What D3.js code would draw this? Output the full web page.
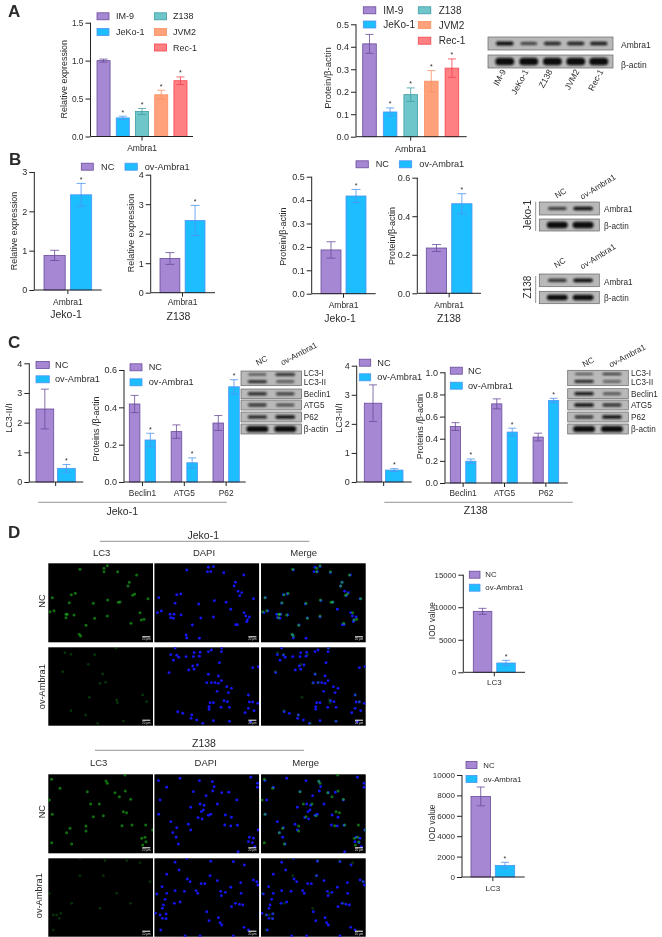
<!DOCTYPE html>
<html><head><meta charset="utf-8">
<script src="https://cdn.jsdelivr.net/npm/d3@7/dist/d3.min.js"></script>
<style>html,body{margin:0;padding:0;background:#fff}svg{display:block;filter:blur(0.3px)}text{font-family:"Liberation Sans",Arial,sans-serif;fill:#2b2b2b}</style>
</head><body><svg id="fig" width="662" height="937" viewBox="0 0 662 937"></svg>
<script>
// ---------- DATA ----------
const lines5 = ['IM-9','JeKo-1','Z138','JVM2','Rec-1'];
const groups2 = ['NC','ov-Ambra1'];
const ambra = ['Ambra1'];
const autophagy = ['Beclin1','ATG5','P62'];
const lc3 = ['LC3'];

const a1Mean=[[1.0,0.245,0.33,0.55,0.735]], a1Err=[[0.02,0.022,0.04,0.06,0.05]];
const a2Mean=[[0.413,0.11,0.187,0.247,0.305]], a2Err=[[0.042,0.018,0.03,0.047,0.041]];
const b1Mean=[[0.88,2.42]], b1Err=[[0.13,0.29]];
const b2Mean=[[1.16,2.45]], b2Err=[[0.2,0.51]];
const b3Mean=[[0.187,0.4175]], b3Err=[[0.035,0.028]];
const b4Mean=[[0.235,0.465]], b4Err=[[0.018,0.052]];
const c1Mean=[[2.46,0.46]], c1Err=[[0.67,0.13]];
const c2Mean=[[0.418,0.225],[0.27,0.103],[0.316,0.51]], c2Err=[[0.046,0.036],[0.036,0.026],[0.04,0.038]];
const c3Mean=[[2.71,0.41]], c3Err=[[0.63,0.05]];
const c4Mean=[[0.51,0.197],[0.715,0.46],[0.415,0.745]], c4Err=[[0.035,0.02],[0.045,0.035],[0.035,0.02]];
const d1Mean=[[9370,1430]], d1Err=[[460,410]];
const d2Mean=[[7900,1140]], d2Err=[[920,300]];

const ticksA1=[0,0.5,1,1.5], ticksA2=[0,0.1,0.2,0.3,0.4,0.5], ticks3=[0,1,2,3], ticks4=[0,1,2,3,4];
const ticksB3=[0,0.1,0.2,0.3,0.4,0.5], ticksB4=[0,0.2,0.4,0.6], ticksC2=[0,0.2,0.4,0.6];
const ticksC4=[0,0.2,0.4,0.6,0.8,1], ticksD1=[0,5000,10000,15000], ticksD2=[0,2000,4000,6000,8000,10000];

// blot band intensities per lane
const blotA=[[0.85,0.45,0.65,0.7,0.75],[1,1,1,1,1]];
const blotBJ=[[0.5,0.85],[1,1]], blotBZ=[[0.55,0.85],[0.95,0.95]];
const blotCJ=[[0.35,0.8],[0.7,0.4],[0.7,0.55],[0.6,0.45],[0.75,0.95],[1,1]];
const blotCZ=[[0.35,0.65],[0.75,0.3],[0.8,0.35],[0.95,0.65],[0.6,0.95],[1,1]];

// micrograph cell positions, as read on the picture
const jNcLc3=[[240,148],[322,137],[312,145],[312,155],[353,155],[410,165],[388,187],[384,198],[398,226],[404,222],[226,220],[214,224],[157,233],[208,248],[280,250],[323,240],[355,247],[360,246],[444,236],[150,275],[162,272],[198,283],[202,283],[198,293],[222,285],[322,288],[284,295],[420,278],[424,300],[432,298],[393,310],[258,316],[238,343],[242,348]];
const jNcDapi=[[560,150],[625,142],[640,140],[622,155],[632,155],[671,158],[731,165],[706,187],[702,198],[714,214],[725,218],[719,227],[760,236],[476,233],[530,224],[542,222],[525,250],[596,252],[643,242],[678,247],[692,268],[472,278],[484,273],[510,283],[522,283],[512,293],[520,295],[543,285],[602,294],[640,291],[577,315],[707,314],[712,314],[732,278],[737,288],[748,291],[742,300],[740,305],[558,345],[560,354],[598,355]];
const jOvLc3=[[195,398],[213,403],[284,404],[348,384],[265,433],[188,455],[308,462],[300,490],[317,487],[350,540],[352,548],[428,525],[440,545],[268,532],[213,572],[257,585],[293,610],[370,603]];
const jOvDapi=[[525,384],[512,404],[530,406],[520,421],[536,412],[558,410],[582,398],[600,397],[580,410],[598,409],[625,395],[634,390],[665,384],[664,395],[578,438],[592,435],[582,448],[566,450],[507,458],[658,428],[625,463],[655,468],[620,488],[634,488],[645,488],[655,490],[664,482],[651,514],[680,500],[685,518],[694,505],[745,525],[758,443],[775,440],[630,548],[640,548],[627,560],[627,568],[663,562],[672,542],[688,562],[682,545],[748,546],[758,546],[773,550],[745,565],[762,572],[735,578],[533,575],[548,580],[575,585],[573,595],[590,600],[608,610],[640,602],[688,604],[752,605]];
const zNcLc3=[[180,175],[155,148],[318,153],[322,160],[345,188],[376,183],[358,200],[392,208],[272,222],[298,222],[148,210],[157,253],[370,245],[380,248],[310,257],[280,260],[210,295],[258,288],[258,303],[366,287],[396,285],[437,285],[155,338],[215,342],[425,325],[435,322],[438,335],[428,345],[458,300],[200,308],[262,185],[375,135]];
const zNcDapi=[[475,152],[500,172],[540,145],[598,152],[637,155],[642,170],[638,183],[580,185],[618,197],[665,188],[686,187],[752,142],[772,160],[772,172],[480,210],[710,210],[600,222],[612,226],[652,222],[572,232],[610,240],[604,245],[632,253],[625,256],[476,253],[594,263],[606,267],[512,275],[676,255],[694,262],[565,283],[572,300],[674,285],[692,288],[712,286],[530,293],[774,300],[518,308],[528,322],[535,342],[748,322],[760,325],[745,335],[757,338],[764,350],[714,365]];
const zOvLc3=[[240,385],[315,392],[380,392],[450,455],[148,490],[350,490],[300,535],[392,520],[310,437],[240,437],[160,555],[170,555],[182,550],[178,565],[160,600],[215,520],[420,398]];
const zOvDapi=[[525,397],[560,385],[537,420],[500,433],[562,447],[570,455],[603,461],[614,461],[632,394],[700,395],[733,405],[630,437],[652,452],[692,472],[722,458],[760,450],[770,455],[773,465],[486,470],[470,492],[500,490],[525,482],[553,484],[588,482],[593,490],[662,484],[676,487],[664,497],[723,490],[495,508],[490,525],[487,535],[523,520],[540,516],[694,530],[706,520],[718,523],[728,525],[466,550],[480,555],[487,565],[498,552],[498,566],[620,545],[627,572],[655,563],[660,578],[665,585],[732,592],[745,600],[482,600],[600,618],[555,618],[700,618]];

// ---------- STYLE ----------
const palette={'IM-9':['#A587D3','#6A4B9B'],'NC':['#A587D3','#6A4B9B'],'JeKo-1':['#1DBEFF','#4C94F2'],'ov-Ambra1':['#1DBEFF','#4C94F2'],
 'Z138':['#6FC6CA','#3D9DA2'],'JVM2':['#FFA27C','#F98F62'],'Rec-1':['#FF8082','#F4434F']};
const svg=d3.select('#fig');
const defs=svg.append('defs');
defs.append('filter').attr('id','blur').attr('x','-30%').attr('y','-300%').attr('width','160%').attr('height','700%')
  .append('feGaussianBlur').attr('stdDeviation',0.9);
defs.append('filter').attr('id','soft').attr('x','-100%').attr('y','-100%').attr('width','300%').attr('height','300%')
  .append('feGaussianBlur').attr('stdDeviation',0.45);

function txt(x,y,s,size,opt={}){
  return svg.append('text').attr('x',x).attr('y',y).attr('font-size',size)
   .attr('text-anchor',opt.anchor||'start').attr('dominant-baseline','central')
   .attr('font-weight',opt.bold?'bold':null).text(s);
}
function vtxt(x,y,s,size,rot=-90,anchor='middle'){
  return svg.append('text').attr('transform',`translate(${x},${y}) rotate(${rot})`).attr('font-size',size)
   .attr('text-anchor',anchor).attr('dominant-baseline','central').text(s);
}
function legend(items){ // items: [name, swatchX, swatchW, swatchY, textX, size]
  items.forEach(([n,sx,sw,sy,tx,size])=>{
    svg.append('rect').attr('x',sx).attr('y',sy-3.5).attr('width',sw).attr('height',7)
      .attr('fill',palette[n][0]).attr('stroke',palette[n][1]).attr('stroke-width',0.8);
    txt(tx,sy,n,size);
  });
}
function barChart(o){
  const y=d3.scaleLinear().domain([0,o.max]).range([o.y0,o.yTop]);
  const n=o.cats.length;
  const outer=d3.scaleBand().domain(o.cats).range([o.bars[0],o.bars[1]]).paddingInner(n>1?o.catPad:0).paddingOuter(0);
  const inner=d3.scaleBand().domain(o.series).range([0,outer.bandwidth()]).paddingInner(o.pad).paddingOuter(0);
  const g=svg.append('g');
  o.cats.forEach((c,i)=>{
    o.series.forEach((s,j)=>{
      const v=o.mean[i][j],e=o.err[i][j],x=outer(c)+inner(s),w=inner.bandwidth(),cx=x+w/2;
      const [fill,stroke]=palette[s];
      g.append('rect').attr('x',x).attr('y',y(v)).attr('width',w).attr('height',y(0)-y(v))
        .attr('fill',fill).attr('stroke',stroke).attr('stroke-width',0.8);
      const wh=o.whisker;
      g.append('path').attr('fill','none').attr('stroke',stroke).attr('stroke-width',0.8)
       .attr('d',`M${cx},${y(v-e)}V${y(v+e)}M${cx-wh},${y(v+e)}H${cx+wh}M${cx-wh},${y(v-e)}H${cx+wh}`);
      if((o.star||[]).includes(s))
        g.append('text').attr('x',cx).attr('y',y(v+e)-4).attr('font-size',7).attr('text-anchor','middle').attr('dominant-baseline','central').text('*');
    });
  });
  const ay=d3.axisLeft(y).tickValues(o.ticks).tickSize(5).tickPadding(2).tickFormat(o.fmt||d3.format('.1f'));
  const ag=svg.append('g').attr('transform',`translate(${o.x},0)`).call(ay);
  ag.selectAll('text').attr('font-size',o.tickSize).attr('font-family','Liberation Sans').attr('fill','#2b2b2b');
  ag.selectAll('line,path').attr('stroke','#222').attr('stroke-width',1);
  ag.select('.domain').attr('d',`M${0},${o.yTop}H0V${o.y0}`);
  const ax=d3.axisBottom(outer).tickSize(4).tickPadding(o.catY-o.y0-4-o.catSize*0.35);
  if(o.hideCat) ax.tickFormat('');
  const xg=svg.append('g').attr('transform',`translate(0,${o.y0})`).call(ax);
  xg.selectAll('text').attr('font-size',o.catSize).attr('font-family','Liberation Sans').attr('fill','#2b2b2b');
  xg.selectAll('line').attr('stroke','#222').attr('stroke-width',1);
  xg.select('.domain').attr('stroke','#222').attr('stroke-width',1).attr('d',`M${o.x},0H${o.xEnd}`);
  vtxt(o.titleX,o.titleY,o.title,o.titleSize||9);
}
function blot(x,y,w,h,rows,lanes,bandW){
  svg.append('rect').attr('x',x).attr('y',y).attr('width',w).attr('height',h).attr('fill','#b9b9b9').attr('stroke','#666').attr('stroke-width',0.7);
  const gx=d3.scaleLinear().domain([0,1]).range([x,x+w]);
  rows.forEach(r=>r.vals.forEach((v,i)=>{
    const rw=bandW*(0.85+0.15*v), rh=r.t*(0.6+0.5*v);
    svg.append('rect').attr('x',gx(lanes[i])-rw).attr('y',y+h*r.f-rh).attr('width',2*rw).attr('height',2*rh).attr('rx',rh).attr('ry',rh)
      .attr('fill',`rgba(15,15,15,${Math.min(1,0.45+0.65*v)})`).attr('filter','url(#blur)');
  }));
}
function micro(x,y,w,h,pts,dom,color,r,op,blend,label){
  const sx=d3.scaleLinear().domain(dom[0]).range([x,x+w]), sy=d3.scaleLinear().domain(dom[1]).range([y,y+h]);
  const cid='c'+Math.round(x)+'_'+Math.round(y)+'_'+color.slice(1);
  defs.append('clipPath').attr('id',cid).append('rect').attr('x',x).attr('y',y).attr('width',w).attr('height',h);
  const g=svg.append('g').attr('clip-path',`url(#${cid})`);
  g.selectAll('circle').data(pts).join('circle').attr('cx',d=>sx(d[0])).attr('cy',d=>sy(d[1])).attr('r',r)
    .attr('fill',color).attr('opacity',op).attr('filter','url(#soft)').style('mix-blend-mode',blend||null);
}
function microRow(y,h,lc3Pts,dapiPts,yDom,gOp,gR){
  const xs=[48.3,154.4,261], w=104.7;
  const dl=[145,459], dd=[463,777];
  xs.forEach(x=>svg.append('rect').attr('x',x).attr('y',y).attr('width',w).attr('height',h).attr('fill','#000'));
  micro(xs[0],y,w,h,lc3Pts,[dl,yDom],'#1fb81f',gR,gOp);
  micro(xs[1],y,w,h,dapiPts,[dd,yDom],'#1616f0',1.45,1);
  micro(xs[2],y,w,h,dapiPts,[dd,yDom],'#1616f0',1.45,1);
  micro(xs[2],y,w,h,lc3Pts,[dl,yDom],'#1fb81f',gR,gOp,'screen');
  xs.forEach(x=>{
    svg.append('rect').attr('x',x+94).attr('y',y+h-6).attr('width',8).attr('height',1).attr('fill','#fff');
    svg.append('text').attr('x',x+98).attr('y',y+h-3).attr('font-size',3).attr('text-anchor','middle').attr('dominant-baseline','central').style('fill','#ddd').text('20 μm');
  });
}

// ---------- PANEL LETTERS ----------
[['A',8,11],['B',9,159],['C',8,342],['D',8,532]].forEach(([s,x,y])=>txt(x,y,s,17,{bold:true}));

// ---------- A ----------
barChart({x:90.5,xEnd:193,y0:136.5,yTop:22.7,max:1.5,ticks:ticksA1,tickSize:8.3,cats:ambra,series:lines5,mean:a1Mean,err:a1Err,bars:[97,187],pad:0.32,whisker:4,star:lines5.slice(1),catY:147.5,catSize:8.5,title:'Relative expression',titleX:64,titleY:79.3});
legend([['IM-9',97,12,16.3,116,9],['JeKo-1',97,12,32,116,9],['Z138',154.5,12,16.3,173,9],['JVM2',154.5,12,32,173,9],['Rec-1',154.5,12,47.5,173,9]]);
barChart({x:356,xEnd:466.7,y0:136.7,yTop:24.3,max:0.5,ticks:ticksA2,tickSize:9,cats:ambra,series:lines5,mean:a2Mean,err:a2Err,bars:[362.7,458.7],pad:0.34,whisker:4,star:lines5.slice(1),catY:148.5,catSize:9,title:'Protein/β-actin',titleX:327,titleY:78,titleSize:9.5});
legend([['IM-9',363.3,12.5,10.3,383.3,10],['JeKo-1',363.3,12.5,24.5,383.3,10],['Z138',418.3,12.5,10.3,438.7,10],['JVM2',418.3,12.5,25,438.7,10],['Rec-1',418.3,12.5,40.7,438.7,10]]);
const lanesA=[0.134,0.326,0.515,0.702,0.886];
blot(488,37,125,13,[{f:0.5,t:1.9,vals:blotA[0]}],lanesA,9);
blot(488,55,125,13,[{f:0.5,t:3.5,vals:blotA[1]}],lanesA,9.5);
txt(621,45,'Ambra1',8.5); txt(621,65,'β-actin',8.5);
[[503.5,70],[526,70],[550,70],[577,70],[601,70]].forEach(([x,y],i)=>vtxt(x,y,lines5[i],8.5,-62,'end'));

// ---------- B ----------
barChart({x:34.3,xEnd:101.7,y0:290,yTop:172,max:3,ticks:ticks3,fmt:d3.format('d'),tickSize:9,cats:ambra,series:groups2,mean:b1Mean,err:b1Err,bars:[44,91.7],pad:0.2,whisker:4.5,star:['ov-Ambra1'],catY:302,catSize:8.5,title:'Relative expression',titleX:14.3,titleY:231});
barChart({x:150.7,xEnd:215,y0:292.7,yTop:174.7,max:4,ticks:ticks4,fmt:d3.format('d'),tickSize:9,cats:ambra,series:groups2,mean:b2Mean,err:b2Err,bars:[160,205],pad:0.21,whisker:4.5,star:['ov-Ambra1'],catY:302,catSize:8.5,title:'Relative expression',titleX:130.7,titleY:233});
legend([['NC',81.3,12,166.7,101,9.2],['ov-Ambra1',125,12.3,166.7,144.7,9.2]]);
txt(66,314,'Jeko-1',10.5,{anchor:'middle'}); txt(178.5,315.5,'Z138',10.5,{anchor:'middle'});
barChart({x:311.7,xEnd:375.7,y0:293.7,yTop:176.7,max:0.5,ticks:ticksB3,tickSize:9,cats:ambra,series:groups2,mean:b3Mean,err:b3Err,bars:[321,366],pad:0.2,whisker:4.5,star:['ov-Ambra1'],catY:305,catSize:8.5,title:'Protein/β-actin',titleX:282.7,titleY:236.7});
barChart({x:417.3,xEnd:481,y0:293.3,yTop:177.7,max:0.6,ticks:ticksB4,tickSize:9,cats:ambra,series:groups2,mean:b4Mean,err:b4Err,bars:[426.3,472],pad:0.2,whisker:4.5,star:['ov-Ambra1'],catY:305,catSize:8.5,title:'Protein/β-actin',titleX:391.7,titleY:236});
legend([['NC',356,12.3,164.3,375.7,9.2],['ov-Ambra1',399.3,12.4,164.3,419.3,9.2]]);
txt(340,317.7,'Jeko-1',10.5,{anchor:'middle'}); txt(449,317.7,'Z138',10.5,{anchor:'middle'});
const lanes2=[0.3,0.73];
blot(539.3,202,60,13,[{f:0.5,t:1.7,vals:blotBJ[0]}],lanes2,10);
blot(539.3,219,60,12,[{f:0.5,t:3,vals:blotBJ[1]}],lanes2,10.5);
blot(539.3,274,60,12.7,[{f:0.5,t:1.9,vals:blotBZ[0]}],lanes2,10);
blot(539.3,291.3,60,12.4,[{f:0.5,t:2.6,vals:blotBZ[1]}],lanes2,10.5);
[[209.3,'Ambra1'],[226.3,'β-actin'],[282,'Ambra1'],[298.7,'β-actin']].forEach(([y,s])=>txt(604,y,s,8.2));
[[201.7,231],[276,303]].forEach(([a,b])=>svg.append('line').attr('x1',535.7).attr('x2',535.7).attr('y1',a).attr('y2',b).attr('stroke','#777').attr('stroke-width',0.8));
vtxt(527,215,'Jeko-1',10); vtxt(527,287,'Z138',10);
[[560.7,193.3,'NC'],[598,187,'ov-Ambra1'],[560,263,'NC'],[598,256.7,'ov-Ambra1']].forEach(([x,y,s])=>vtxt(x,y,s,8.2,-32));

// ---------- C ----------
barChart({x:29.3,xEnd:83.3,y0:482,yTop:363.3,max:4,ticks:ticks4,fmt:d3.format('d'),tickSize:9,cats:[''],series:groups2,mean:c1Mean,err:c1Err,bars:[36,75.3],pad:0.18,whisker:4,star:['ov-Ambra1'],catY:492,catSize:8.5,hideCat:true,title:'LC3-II/I',titleX:9,titleY:418});
legend([['NC',36,13.3,365,55,9.2],['ov-Ambra1',36,13.3,379.3,55,9.2]]);
barChart({x:124,xEnd:245.7,y0:482,yTop:370,max:0.6,ticks:ticksC2,tickSize:9,cats:autophagy,series:groups2,mean:c2Mean,err:c2Err,bars:[129.3,239.3],catPad:0.371,pad:0.325,whisker:4,star:['ov-Ambra1'],catY:492.7,catSize:8.3,title:'Proteins /β-actin',titleX:96,titleY:429});
legend([['NC',130,12,367.3,148.7,9.2],['ov-Ambra1',130,12,382.3,148.7,9.2]]);
svg.append('line').attr('x1',38.3).attr('x2',226.7).attr('y1',502.3).attr('y2',502.3).attr('stroke','#777').attr('stroke-width',0.8);
txt(122.3,510.5,'Jeko-1',10.5,{anchor:'middle'});
barChart({x:356.7,xEnd:411.7,y0:482,yTop:365.7,max:4,ticks:ticks4,fmt:d3.format('d'),tickSize:9,cats:[''],series:groups2,mean:c3Mean,err:c3Err,bars:[364.3,403],pad:0.18,whisker:4,star:['ov-Ambra1'],catY:492,catSize:8.5,hideCat:true,title:'LC3-II/I',titleX:339,titleY:418});
legend([['NC',359.3,11.4,362.7,377.3,9.2],['ov-Ambra1',359.3,11.4,377.3,377.3,9.2]]);
barChart({x:445,xEnd:567.7,y0:483,yTop:372.3,max:1,ticks:ticksC4,tickSize:9,cats:autophagy,series:groups2,mean:c4Mean,err:c4Err,bars:[450.3,558.7],catPad:0.38,pad:0.34,whisker:4,star:['ov-Ambra1'],catY:493.5,catSize:8.3,title:'Proteins /β-actin',titleX:420,titleY:426.7});
legend([['NC',450.3,12,370.7,468,9.2],['ov-Ambra1',450.3,12,385.7,468,9.2]]);
svg.append('line').attr('x1',384.3).attr('x2',572.7).attr('y1',502.3).attr('y2',502.3).attr('stroke','#777').attr('stroke-width',0.8);
txt(475.7,509.5,'Z138',10.5,{anchor:'middle'});
const lanes3=[0.27,0.73];
[[241,blotCJ,[371,385.7,389,398.7,400,410,412,422,424,434],303.7],[567.7,blotCZ,[370.3,385.7,388.7,398.7,400,410,412,422,424,434],631]].forEach(([x,bd,ys,lx])=>{
  const w=60.6;
  blot(x,ys[0],w,ys[1]-ys[0],[{f:0.24,t:1.2,vals:bd[0]},{f:0.72,t:1.4,vals:bd[1]}],lanes3,10);
  [1,2,3,4].forEach(i=>blot(x,ys[i*2],w,ys[i*2+1]-ys[i*2],[{f:0.5,t:i==4?2.8:1.6,vals:bd[i+1]}],lanes3,i==4?11:10));
  [[373.7,'LC3-I'],[382.3,'LC3-II'],[394.3,'Beclin1'],[405.7,'ATG5'],[417.3,'P62'],[429,'β-actin']].forEach(([y,s])=>txt(lx,y,s,8.2));
});
[[261.7,360.7,'NC'],[299,354,'ov-Ambra1'],[588.3,362.3,'NC'],[627.3,356,'ov-Ambra1']].forEach(([x,y,s])=>vtxt(x,y,s,8.2,-28));

// ---------- D ----------
txt(203.3,535,'Jeko-1',10.5,{anchor:'middle'});
svg.append('line').attr('x1',100).attr('x2',309.3).attr('y1',541.3).attr('y2',541.3).attr('stroke','#777').attr('stroke-width',0.8);
[[101.7,'LC3'],[204,'DAPI'],[303.7,'Merge']].forEach(([x,s])=>txt(x,552.7,s,9.5,{anchor:'middle'}));
vtxt(42.3,601,'NC',9.2); vtxt(41.7,686.7,'ov-Ambra1',9.2);
microRow(563.3,79,jNcLc3,jNcDapi,[130,367],0.6,1.5);
microRow(647.3,78.4,jOvLc3,jOvDapi,[382,617],0.28,1.4);
txt(204,742.7,'Z138',10.5,{anchor:'middle'});
svg.append('line').attr('x1',95).attr('x2',304).attr('y1',750.3).attr('y2',750.3).attr('stroke','#777').attr('stroke-width',0.8);
[[98.7,'LC3'],[205.7,'DAPI'],[305.7,'Merge']].forEach(([x,s])=>txt(x,762.3,s,9.5,{anchor:'middle'}));
vtxt(41.7,811.7,'NC',9.2); vtxt(39.3,895.7,'ov-Ambra1',9.2);
microRow(774.3,79,zNcLc3,zNcDapi,[133,370],0.6,1.5);
microRow(858.3,78.4,zOvLc3,zOvDapi,[385,620],0.25,1.4);

barChart({x:463.3,xEnd:525,y0:672.3,yTop:574.7,max:15000,ticks:ticksD1,fmt:d3.format('d'),tickSize:7.8,cats:lc3,series:groups2,mean:d1Mean,err:d1Err,bars:[473.3,515.3],pad:0.21,whisker:4,star:['ov-Ambra1'],catY:682,catSize:8,title:'IOD value',titleX:431.7,titleY:620.7,titleSize:8.3});
legend([['NC',469.3,10.7,574.7,485.3,7.8],['ov-Ambra1',469.3,10.7,587.7,485.3,7.8]]);
barChart({x:462,xEnd:524.7,y0:877,yTop:775,max:10000,ticks:ticksD2,fmt:d3.format('d'),tickSize:8,cats:lc3,series:groups2,mean:d2Mean,err:d2Err,bars:[471,514.7],pad:0.2,whisker:4,star:['ov-Ambra1'],catY:887.7,catSize:8,title:'IOD value',titleX:431.7,titleY:823,titleSize:8.3});
legend([['NC',466,11,765,483.3,7.8],['ov-Ambra1',466,11,779,483.3,7.8]]);
</script></body></html>
